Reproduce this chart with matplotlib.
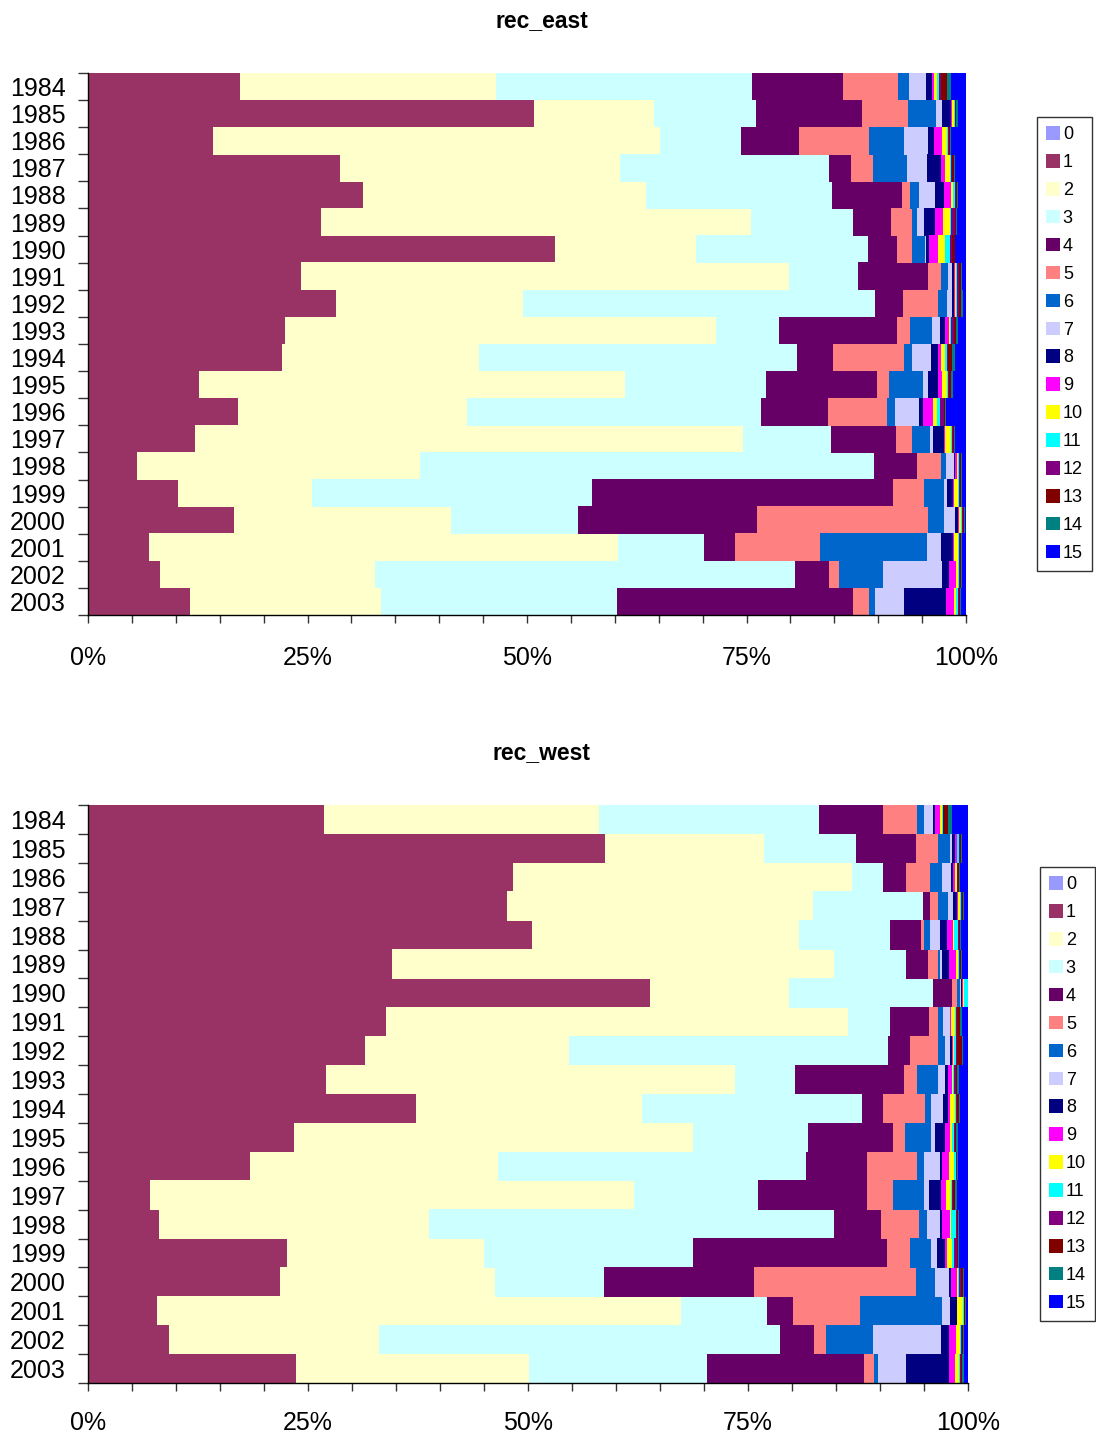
import numpy as np
import matplotlib
matplotlib.use("Agg")
import matplotlib.pyplot as plt

plt.rcParams['font.family'] = ['Liberation Sans', 'DejaVu Sans']

years = [str(y) for y in range(1984, 2004)]
categories = [str(c) for c in range(16)]
colors = ['#9999FF', '#993366', '#FFFFCC', '#CCFFFF', '#660066', '#FF8080',
          '#0066CC', '#CCCCFF', '#000080', '#FF00FF', '#FFFF00', '#00FFFF',
          '#800080', '#800000', '#008080', '#0000FF']

# ---- rec_east (percent shares per category, rows = years 1984..2003) ----
e0 = [0.0] * 20
e1 = [17.4, 50.8, 14.2, 28.7, 31.3, 26.5, 53.2, 24.3, 28.2, 22.4, 22.1, 12.6, 17.1, 12.2, 5.6, 10.3, 16.6, 6.9, 8.2, 11.6]
e2 = [29.2, 13.7, 51.0, 32.0, 32.3, 49.0, 16.1, 55.7, 21.2, 49.1, 22.4, 48.6, 26.1, 62.5, 32.2, 15.3, 24.7, 53.5, 24.5, 21.8]
e3 = [29.2, 11.6, 9.2, 23.8, 21.1, 11.6, 19.5, 7.9, 40.1, 7.2, 36.3, 16.1, 33.5, 10.0, 51.7, 31.9, 14.5, 9.8, 47.8, 26.9]
e4 = [10.4, 12.1, 6.6, 2.5, 8.0, 4.4, 3.3, 8.0, 3.1, 13.4, 4.1, 12.6, 7.7, 7.4, 4.9, 34.4, 20.3, 3.6, 3.9, 26.9]
e5 = [6.3, 5.2, 7.9, 2.5, 0.9, 2.4, 1.7, 1.4, 4.0, 1.5, 8.0, 1.4, 6.7, 1.8, 2.7, 3.5, 19.5, 9.6, 1.1, 1.8]
e6 = [1.3, 3.2, 4.0, 3.9, 1.1, 0.5, 1.5, 0.8, 1.0, 2.5, 1.0, 3.9, 0.9, 2.1, 0.6, 2.3, 1.8, 12.3, 5.0, 0.7]
e7 = [1.9, 0.7, 2.8, 2.2, 1.8, 0.8, 0.2, 0.5, 0.6, 0.9, 2.1, 0.6, 2.7, 0.3, 0.9, 0.3, 1.3, 1.6, 6.8, 3.3]
e8 = [0.7, 1.0, 0.7, 1.6, 1.0, 1.3, 0.3, 0.2, 0.2, 0.6, 0.8, 1.1, 0.5, 1.3, 0.1, 0.7, 0.3, 1.3, 0.8, 4.8]
e9 = [0.3, 0.1, 0.9, 0.5, 0.8, 0.9, 1.0, 0.1, 0.1, 0.5, 0.3, 0.5, 1.1, 0.1, 0.3, 0.1, 0.1, 0.1, 0.8, 0.9]
e10 = [0.3, 0.2, 0.5, 0.6, 0.2, 0.8, 0.8, 0.2, 0.2, 0.1, 0.5, 0.5, 0.5, 0.7, 0.1, 0.5, 0.2, 0.5, 0.2, 0.3]
e11 = [0.2, 0.1, 0.2, 0.1, 0.3, 0.1, 0.6, 0.1, 0.1, 0.1, 0.2, 0.1, 0.3, 0.1, 0.1, 0.1, 0.2, 0.1, 0.1, 0.2]
e12 = [0.2, 0.1, 0.1, 0.1, 0.1, 0.5, 0.2, 0.2, 0.2, 0.3, 0.1, 0.2, 0.5, 0.1, 0.1, 0.1, 0.1, 0.1, 0.1, 0.1]
e13 = [0.7, 0.1, 0.1, 0.2, 0.1, 0.1, 0.3, 0.2, 0.2, 0.3, 0.5, 0.2, 0.1, 0.1, 0.1, 0.1, 0.1, 0.1, 0.1, 0.1]
e14 = [0.5, 0.2, 0.1, 0.1, 0.1, 0.1, 0.1, 0.1, 0.3, 0.2, 0.3, 0.2, 0.1, 0.1, 0.1, 0.1, 0.1, 0.1, 0.1, 0.1]
e15 = [1.7, 0.9, 1.7, 1.3, 0.9, 1.0, 1.2, 0.5, 0.3, 0.9, 1.3, 1.5, 2.3, 1.3, 0.5, 0.5, 0.1, 0.5, 0.5, 0.6]

# ---- rec_west ----
w0 = [0.0] * 20
w1 = [26.8, 58.9, 48.3, 47.7, 50.5, 34.4, 63.8, 33.9, 31.5, 27.0, 37.3, 23.4, 18.4, 7.0, 8.1, 22.6, 21.8, 7.8, 9.2, 23.6]
w2 = [31.3, 18.1, 38.5, 34.8, 30.3, 50.1, 15.8, 52.5, 23.2, 46.5, 25.7, 45.3, 28.1, 55.1, 30.6, 22.3, 24.4, 59.7, 23.9, 26.5]
w3 = [25.1, 10.5, 3.5, 12.6, 10.3, 8.2, 16.3, 4.7, 36.3, 6.8, 25.0, 13.0, 34.9, 14.0, 45.9, 23.6, 12.3, 9.7, 45.5, 20.2]
w4 = [7.2, 6.9, 2.6, 0.8, 3.6, 2.5, 2.2, 4.5, 2.5, 12.4, 2.4, 9.7, 7.0, 12.4, 5.3, 22.0, 17.0, 3.0, 3.9, 17.8]
w5 = [3.9, 2.5, 2.8, 0.9, 0.3, 1.1, 0.6, 1.0, 3.2, 1.5, 4.8, 1.3, 5.6, 3.0, 4.3, 2.6, 18.4, 7.6, 1.4, 1.1]
w6 = [0.8, 1.4, 1.4, 1.1, 0.7, 0.2, 0.3, 0.6, 0.8, 2.4, 0.7, 3.0, 0.8, 3.5, 0.9, 2.4, 2.2, 9.3, 5.3, 0.5]
w7 = [1.0, 0.2, 1.0, 0.6, 1.1, 0.3, 0.15, 0.7, 0.6, 0.8, 1.4, 0.5, 1.8, 0.6, 1.5, 0.7, 1.5, 0.9, 7.7, 3.2]
w8 = [0.3, 0.3, 0.2, 0.5, 0.8, 0.8, 0.1, 0.1, 0.2, 0.3, 0.5, 1.1, 0.3, 1.3, 0.3, 0.9, 0.3, 0.8, 0.9, 4.8]
w9 = [0.5, 0.2, 0.2, 0.1, 0.7, 0.7, 0.1, 0.1, 0.1, 0.5, 0.2, 0.5, 0.8, 0.6, 0.9, 0.2, 0.6, 0.1, 0.8, 0.7]
w10 = [0.2, 0.1, 0.2, 0.2, 0.1, 0.3, 0.15, 0.4, 0.1, 0.1, 0.6, 0.3, 0.5, 0.6, 0.1, 0.6, 0.2, 0.6, 0.5, 0.5]
w11 = [0.1, 0.2, 0.1, 0.1, 0.5, 0.1, 0.4, 0.1, 0.2, 0.1, 0.1, 0.2, 0.2, 0.1, 0.5, 0.2, 0.1, 0.1, 0.1, 0.1]
w12 = [0.1, 0.1, 0.1, 0.1, 0.1, 0.1, 0.0, 0.2, 0.1, 0.2, 0.1, 0.1, 0.1, 0.1, 0.2, 0.3, 0.2, 0.1, 0.1, 0.1]
w13 = [0.5, 0.1, 0.1, 0.1, 0.1, 0.1, 0.0, 0.3, 0.6, 0.2, 0.3, 0.1, 0.1, 0.2, 0.1, 0.2, 0.2, 0.1, 0.1, 0.1]
w14 = [0.5, 0.1, 0.1, 0.1, 0.1, 0.1, 0.0, 0.2, 0.1, 0.2, 0.1, 0.3, 0.1, 0.2, 0.1, 0.1, 0.1, 0.1, 0.1, 0.2]
w15 = [1.8, 0.7, 0.9, 0.5, 0.8, 0.7, 0.0, 0.7, 0.6, 1.0, 0.9, 1.1, 1.1, 1.3, 1.0, 1.0, 0.5, 0.2, 0.5, 0.5]

east = [e0, e1, e2, e3, e4, e5, e6, e7, e8, e9, e10, e11, e12, e13, e14, e15]
west = [w0, w1, w2, w3, w4, w5, w6, w7, w8, w9, w10, w11, w12, w13, w14, w15]

W, H = 1096, 1435
fig = plt.figure(figsize=(W / 100, H / 100), dpi=100)


def draw(ax, series, title, title_base, leg_x, xpad):
    data = np.array(series, dtype=float)
    pct = data / data.sum(axis=0) * 100.0
    y = np.arange(len(years))
    left = np.zeros(len(years))
    for k, cat in enumerate(categories):
        ax.barh(y, pct[k], left=left, height=1.02, color=colors[k],
                edgecolor='none', linewidth=0, label=cat, antialiased=False)
        left += pct[k]
    ax.set_xlim(0, 100)
    ax.set_ylim(len(years) - 0.5, -0.5)
    for s in ('top', 'right'):
        ax.spines[s].set_visible(False)
    for s in ('left', 'bottom'):
        ax.spines[s].set_color('black')
        ax.spines[s].set_linewidth(1.0)
    ax.set_xticks([0, 25, 50, 75, 100])
    ax.set_xticklabels(['0%', '25%', '50%', '75%', '100%'])
    ax.set_xticks(np.arange(0, 101, 5), minor=True)
    ax.tick_params(axis='x', which='both', direction='out', length=5.5, width=1,
                   color='#333333', labelsize=18, pad=xpad)
    ax.set_yticks(np.arange(-0.5, len(years), 1.0))
    ax.set_yticklabels([''] * (len(years) + 1))
    ax.set_yticks(y, minor=True)
    ax.set_yticklabels(years, minor=True)
    ax.tick_params(axis='y', which='major', direction='out', length=7, width=1, color='#333333')
    ax.tick_params(axis='y', which='minor', length=0, labelsize=18, pad=16)
    pos = ax.get_position()
    fig.text(0.4945, title_base, title, ha='center', va='baseline', fontsize=16.5,
             fontweight='bold')
    leg = ax.legend(loc='center left', bbox_to_anchor=(leg_x, pos.y0 + pos.height / 2),
                    bbox_transform=fig.transFigure, frameon=True, fancybox=False,
                    edgecolor='black', fontsize=13, handlelength=0.78,
                    handleheight=0.78, handletextpad=0.15, labelspacing=0.6,
                    borderpad=0.5, borderaxespad=0)
    leg.get_frame().set_linewidth(1.0)


ax1 = fig.add_axes([88 / W, 1 - 615 / H, 878 / W, 542 / H])
draw(ax1, east, 'rec_east', 1 - 27 / H, 1037 / W, 16.5)
ax2 = fig.add_axes([88 / W, 1 - 1383 / H, 880 / W, 578 / H])
draw(ax2, west, 'rec_west', 1 - 759 / H, 1040 / W, 14.3)

fig.savefig('out.png', dpi=100)
